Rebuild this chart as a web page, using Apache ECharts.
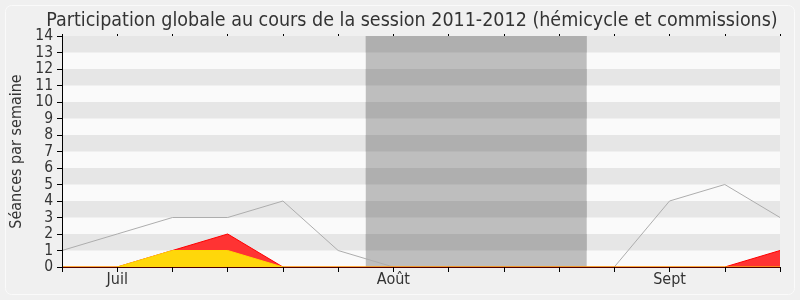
<!DOCTYPE html>
<html><head><meta charset="utf-8">
<script src="https://cdn.jsdelivr.net/npm/echarts@6/dist/echarts.min.js"></script>
<style>html,body{margin:0;padding:0;background:#fff}#c{width:800px;height:300px}</style>
</head><body><div id="c"></div>
<script>
var weekLabels = ['', 'Juil', '', '', '', '', 'Août', '', '', '', '', 'Sept', '', ''];
var totalSeances = [1, 2, 3, 3, 4, 1, 0, 0, 0, 0, 0, 4, 5, 3];
var greenVals = [0, 0, 0, 0, 0, 0, 0, 0, 0, 0, 0, 0, 0, 0];
var yellowVals = [0, 0, 1, 1, 0, 0, 0, 0, 0, 0, 0, 0, 0, 0];
var redVals = [0, 0, 0, 1, 0, 0, 0, 0, 0, 0, 0, 0, 0, 1];
var vacation = [5.5, 9.5];
var yMax = 14;

function pairs(a){ return a.map(function(v,i){return [i,v];}); }
var cumYellow = yellowVals.map(function(v,i){return v+greenVals[i];});
var cumRed = redVals.map(function(v,i){return v+cumYellow[i];});
var bands = [], darkBands = [];
for (var k = 1; k < yMax; k += 2) {
  bands.push([{yAxis:k},{yAxis:k+1}]);
  darkBands.push([{xAxis:vacation[0], yAxis:k},{xAxis:vacation[1], yAxis:k+1}]);
}
var font = 'DejaVu Sans Condensed, DejaVu Sans';
var chart = echarts.init(document.getElementById('c'));
chart.setOption({
  animation:false,
  backgroundColor:'#F0F0F0',
  graphic:[{type:'rect',shape:{x:5.5,y:5.5,width:789,height:289,r:6},style:{fill:'none',stroke:'#FAFAFA',lineWidth:1},z:-1}],
  title:{text:'Participation globale au cours de la session 2011-2012 (hémicycle et commissions)',left:407,textAlign:'center',top:6,textStyle:{fontFamily:font,fontSize:19.5,fontWeight:'normal',color:'#333'}},
  grid:{left:62,right:20,top:36,bottom:33},
  xAxis:[{type:'value',min:0,max:13,interval:1,z:10,
    axisLine:{lineStyle:{color:'#500000'}},
    axisTick:{show:true,length:5,lineStyle:{color:'#000'}},
    axisLabel:{formatter:function(v){return weekLabels[v]||'';},fontFamily:font,fontSize:16,color:'#333',margin:5},
    splitLine:{show:false}},
   {type:'value',position:'top',min:0,max:13,interval:1,
    axisLine:{show:false},axisTick:{show:true,length:2,lineStyle:{color:'#000'}},axisLabel:{show:false},splitLine:{show:false}}],
  yAxis:{type:'value',min:0,max:yMax,interval:1,z:10,
    name:'Séances par semaine',nameLocation:'middle',nameGap:36,nameTextStyle:{fontFamily:font,fontSize:16,color:'#333'},
    axisLine:{show:true,lineStyle:{color:'#000'}},
    axisTick:{show:true,length:5,lineStyle:{color:'#000'}},
    axisLabel:{fontFamily:font,fontSize:15.5,color:'#333',margin:9,showMinLabel:true,showMaxLabel:true,hideOverlap:false},
    splitLine:{show:false},
    splitArea:{show:false}},
  series:[
    {type:'line',name:'bgw',data:[],silent:true,z:0,
     markArea:{silent:true,itemStyle:{color:'#FAFAFA'},data:[[{yAxis:0},{yAxis:yMax}]]}},
    {type:'line',name:'bg',data:[],silent:true,z:0,
     markArea:{silent:true,itemStyle:{color:'#E6E6E6'},data:bands}},
    {type:'line',name:'vac',data:[],silent:true,z:1,
     markArea:{silent:true,itemStyle:{color:'#BEBEBE'},data:[[{xAxis:vacation[0]},{xAxis:vacation[1]}]]}},
    {type:'line',name:'vacdark',data:[],silent:true,z:1,
     markArea:{silent:true,itemStyle:{color:'#AFAFAF'},data:darkBands}},
    {type:'line',name:'total',data:pairs(totalSeances),symbol:'none',z:3,
     lineStyle:{color:'#ADADAD',width:1}},
    {type:'line',name:'red',data:pairs(cumRed),symbol:'none',z:4,
     lineStyle:{color:'#FF0000',width:1},areaStyle:{color:'#FF3333',opacity:1}},
    {type:'line',name:'yellow',data:pairs(cumYellow),symbol:'none',z:5,
     lineStyle:{color:'#FFD700',width:1},areaStyle:{color:'#FFD70A',opacity:1}},
    {type:'line',name:'green',data:pairs(greenVals),symbol:'none',z:6,
     lineStyle:{color:'#00A000',width:0},areaStyle:{color:'#00A000',opacity:1}}
  ]
});
</script></body></html>
